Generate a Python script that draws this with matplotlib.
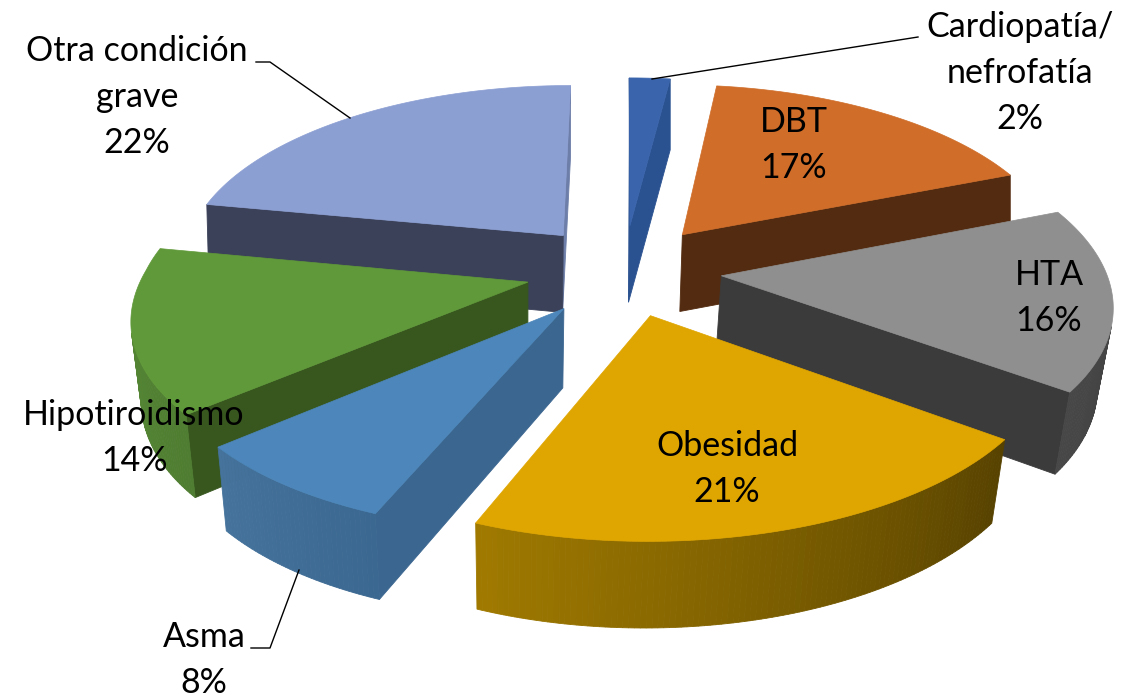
#!/usr/bin/env python3
import numpy as np
import matplotlib
matplotlib.use('Agg')
import matplotlib.pyplot as plt
from matplotlib.colors import to_rgb
from matplotlib.patches import Polygon

labels = ['Cardiopatía/\nnefrofatía\n2%', 'DBT\n17%', 'HTA\n16%', 'Obesidad\n21%',
          'Asma\n8%', 'Hipotiroidismo\n14%', 'Otra condición\ngrave\n22%']
values = [2, 17, 16, 21, 7.6, 14.4, 22]

top_colors = ['#3a65ad', '#cf6d29', '#8f8f8f', '#dfa500', '#4c86ba', '#609939', '#8c9fd3']
# rim colour at the start and at the end of each slice's arc
rim_first = ['#2b5290', '#532b10', '#3c3c3c', '#574200', '#3b6891', '#4f7d31', '#6a7aa0']
rim_last = ['#2b5290', '#6b3a18', '#474747', '#a07a00', '#45739c', '#5a8e38', '#7686b0']
cut_first = ['#2b5290', '#532b10', '#3b3b3b', '#574200', '#3b6690', '#37571f', '#3a4158']
cut_last = ['#2b5290', '#532b10', '#3b3b3b', '#574200', '#3b6690', '#37571f', '#6d7ea8']

# pie geometry in pixels of the picture
cx, cy = 624, 270
rx, ry = 384, 180
persp = 0.14
persp_x = 0.015
skew = 8
depth = 78
depth_persp = 0.08
shrink = 0.027
pivot = 100
explode = 0.255

plt.rcParams['font.family'] = ['Lato', 'DejaVu Sans']


def project(x, y, z=0):
    f = 1 / (1 + persp * y)
    fd = 1 / (1 + depth_persp * y)
    front = min(y, 0)
    sx = cx + rx * x * f / (1 + persp_x * front) + skew * front
    # the bottom face narrows towards a point left of centre, mostly at the front
    sx -= (sx - (cx - pivot)) * shrink * z * (1 - 2 * np.clip(y, 0, 0.5))
    return sx, cy - ry * y * f + depth * z * fd


def mix(a, b, t):
    return tuple(np.array(to_rgb(a)) * (1 - t) + np.array(to_rgb(b)) * t)


def area(pts):
    p = np.array(pts)
    return 0.5 * np.sum(p[:, 0] * np.roll(p[:, 1], -1) - np.roll(p[:, 0], -1) * p[:, 1])


fig = plt.figure(figsize=(11.43, 6.97), dpi=100)
ax = fig.add_axes([0, 0, 1, 1])
ax.set_xlim(0, 1143)
ax.set_ylim(697, 0)
ax.axis('off')

stops = np.cumsum([0] + values) / sum(values) * 2 * np.pi
mids = (stops[:-1] + stops[1:]) / 2
# back slices first
order = np.argsort(-np.cos(mids))

for i in order:
    ox, oy = explode * np.sin(mids[i]), explode * np.cos(mids[i])
    th = np.linspace(stops[i], stops[i + 1], max(int(values[i] * 5), 12))
    xs, ys = ox + np.sin(th), oy + np.cos(th)
    faces = []
    # the two cut faces
    for k, col in [(0, cut_first[i]), (-1, cut_last[i])]:
        quad = [project(ox, oy), project(xs[k], ys[k]), project(xs[k], ys[k], 1), project(ox, oy, 1)]
        if k == -1:
            quad = quad[::-1]
        faces.append((ys[k] / 2 + oy / 2, quad, col))
    # outer rim, shaded along the arc
    for j in range(len(th) - 1):
        quad = [project(xs[j], ys[j]), project(xs[j + 1], ys[j + 1]),
                project(xs[j + 1], ys[j + 1], 1), project(xs[j], ys[j], 1)]
        t = j / (len(th) - 2)
        faces.append((ys[j], quad, mix(rim_first[i], rim_last[i], t)))
    faces.sort(key=lambda f: -f[0])
    for _, quad, col in faces:
        # skip faces pointing away from the viewer
        if area(quad) > 0:
            continue
        ax.add_patch(Polygon(quad, closed=True, fc=col, ec=col, lw=0.6, zorder=2))
    top = [project(ox, oy)] + [project(a, b) for a, b in zip(xs, ys)]
    ax.add_patch(Polygon(top, closed=True, fc=top_colors[i], ec=top_colors[i], lw=0.5, zorder=2))

label_pos = [(1020, 73), (794, 145), (1049, 298), (727, 469), (204, 660), (134, 438), (137, 97)]
for name, (lx, ly) in zip(labels, label_pos):
    ax.text(lx, ly, name, ha='center', va='center', fontsize=24.5, color='black',
            linespacing=1.53, zorder=4)

leaders = [[(652, 79), (918, 37)], [(256, 62), (270, 62), (350, 118)], [(251, 648), (270, 648), (299, 570)]]
for line in leaders:
    ax.plot(*zip(*line), color='black', lw=1, zorder=3)

fig.savefig('out.png', dpi=100)
